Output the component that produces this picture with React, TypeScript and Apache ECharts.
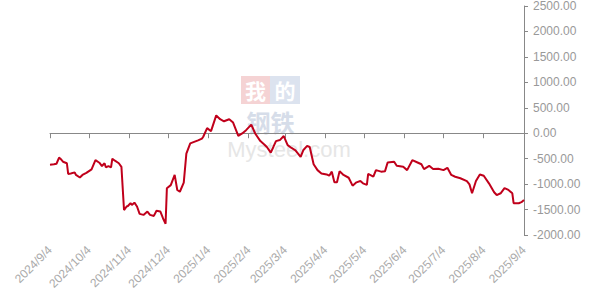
import React, { useEffect, useRef } from "react";
import * as echarts from "echarts";

// Axis range
const START_DATE = "2024-09-04";
const END_DATE = "2025-09-04";
const Y_MIN = -2000;
const Y_MAX = 2500;
const Y_STEP = 500;

// Series
const pointDates = [
  "2024/9/4", "2024/9/7", "2024/9/9", "2024/9/11", "2024/9/12", "2024/9/14", "2024/9/17", "2024/9/18",
  "2024/9/20", "2024/9/23", "2024/9/24", "2024/9/27", "2024/9/29", "2024/10/2", "2024/10/6", "2024/10/9",
  "2024/10/12", "2024/10/14", "2024/10/16", "2024/10/17", "2024/10/19", "2024/10/21", "2024/10/22", "2024/10/24",
  "2024/10/27", "2024/10/29", "2024/10/31", "2024/11/2", "2024/11/3", "2024/11/5", "2024/11/6", "2024/11/8",
  "2024/11/10", "2024/11/12", "2024/11/15", "2024/11/18", "2024/11/20", "2024/11/23", "2024/11/25", "2024/11/28",
  "2024/11/30", "2024/12/2", "2024/12/3", "2024/12/6", "2024/12/9", "2024/12/11", "2024/12/13", "2024/12/16",
  "2024/12/18", "2024/12/21", "2024/12/24", "2024/12/27", "2024/12/30", "2024/12/31", "2025/1/3", "2025/1/6",
  "2025/1/10", "2025/1/13", "2025/1/16", "2025/1/20", "2025/1/23", "2025/1/27", "2025/1/30", "2025/2/2",
  "2025/2/6", "2025/2/9", "2025/2/13", "2025/2/16", "2025/2/18", "2025/2/21", "2025/2/23", "2025/2/25",
  "2025/2/28", "2025/3/3", "2025/3/6", "2025/3/9", "2025/3/12", "2025/3/16", "2025/3/18", "2025/3/21",
  "2025/3/23", "2025/3/26", "2025/3/29", "2025/4/1", "2025/4/5", "2025/4/7", "2025/4/9", "2025/4/11",
  "2025/4/13", "2025/4/15", "2025/4/18", "2025/4/22", "2025/4/25", "2025/4/28", "2025/5/1", "2025/5/3",
  "2025/5/6", "2025/5/7", "2025/5/11", "2025/5/13", "2025/5/17", "2025/5/20", "2025/5/22", "2025/5/27",
  "2025/5/29", "2025/6/3", "2025/6/6", "2025/6/10", "2025/6/14", "2025/6/17", "2025/6/19", "2025/6/23",
  "2025/6/26", "2025/6/30", "2025/7/4", "2025/7/7", "2025/7/10", "2025/7/13", "2025/7/17", "2025/7/22",
  "2025/7/24", "2025/7/26", "2025/7/29", "2025/8/1", "2025/8/4", "2025/8/8", "2025/8/12", "2025/8/14",
  "2025/8/17", "2025/8/20", "2025/8/23", "2025/8/26", "2025/8/27", "2025/8/31", "2025/9/2", "2025/9/4",
];
const pointValues = [
  -620, -610, -600, -480, -500, -560, -590, -800,
  -790, -770, -820, -870, -820, -780, -710, -530,
  -580, -645, -590, -670, -645, -670, -500, -540,
  -590, -660, -1510, -1440, -1430, -1375, -1410, -1365,
  -1440, -1585, -1605, -1540, -1605, -1625, -1525, -1540,
  -1670, -1780, -1080, -1020, -820, -1115, -1150, -970,
  -400, -200, -170, -140, -105, -70, 100, 40,
  350, 275, 235, 275, 210, -50, -5, 60,
  170, -5, -155, -220, -270, -380, -270, -155,
  -135, -55, -235, -290, -335, -465, -335, -250,
  -270, -610, -725, -790, -810, -835, -755, -965,
  -965, -745, -820, -875, -1030, -965, -940, -985,
  -1015, -800, -855, -725, -755, -745, -575, -560,
  -640, -660, -725, -530, -575, -610, -705, -640,
  -705, -700, -725, -680, -820, -855, -885, -940,
  -1005, -1180, -940, -810, -835, -985, -1160, -1215,
  -1180, -1080, -1115, -1180, -1375, -1375, -1355, -1310,
];

function buildDays(start: string, end: string): string[] {
  const out: string[] = [];
  const s = new Date(start + "T00:00:00Z");
  const e = new Date(end + "T00:00:00Z");
  for (let d = new Date(s); d <= e; d.setUTCDate(d.getUTCDate() + 1)) {
    out.push(`${d.getUTCFullYear()}/${d.getUTCMonth() + 1}/${d.getUTCDate()}`);
  }
  return out;
}

const categories = buildDays(START_DATE, END_DATE);
const isMonthTick = (_i: number, v: string) => v.endsWith("/4");

export default function App() {
  const ref = useRef<HTMLDivElement>(null);
  useEffect(() => {
    document.body.style.margin = "0";
    if (!ref.current) return;
    const chart = echarts.init(ref.current, undefined, { renderer: "svg" });
    const data = pointDates.map((d, i) => [categories.indexOf(d), pointValues[i]]);
    chart.setOption({
      animation: false,
      backgroundColor: "#ffffff",
      grid: { left: 50, right: 72, top: 5, bottom: 67, containLabel: false },
      graphic: [
        { type: "rect", z: 0, shape: { x: 241, y: 76, width: 29, height: 28 }, style: { fill: "#f5d3d4" } },
        { type: "rect", z: 0, shape: { x: 270, y: 76, width: 30, height: 28 }, style: { fill: "#dce3ef" } },
        { type: "text", z: 0, x: 255.5, y: 90, style: { text: "我", fill: "#ffffff", font: "bold 21px 'Noto Sans CJK SC'", align: "center", verticalAlign: "middle" } },
        { type: "text", z: 0, x: 285, y: 90, style: { text: "的", fill: "#ffffff", font: "bold 21px 'Noto Sans CJK SC'", align: "center", verticalAlign: "middle" } },
        { type: "text", z: 0, x: 270.5, y: 121, style: { text: "钢铁", fill: "#d6dde9", font: "bold 24px 'Noto Sans CJK SC'", align: "center", verticalAlign: "middle" } },
        { type: "text", z: 0, x: 289, y: 149, style: { text: "Mysteel.com", fill: "#e6e6e6", font: "22px 'Liberation Sans'", align: "center", verticalAlign: "middle" } },
      ],
      xAxis: [
        {
          type: "category",
          data: categories,
          boundaryGap: false,
          position: "bottom",
          axisLine: { show: false, onZero: false },
          axisTick: { show: false },
          axisLabel: {
            interval: isMonthTick,
            rotate: 45,
            margin: 13,
            color: "#aaaaaa",
            fontSize: 12,
            fontFamily: "'Liberation Sans', Arial",
          },
          splitLine: { show: false },
        },
        {
          type: "category",
          data: categories,
          boundaryGap: false,
          position: "bottom",
          axisLine: { show: true, onZero: true, lineStyle: { color: "#888888", width: 1 } },
          axisTick: { show: true, interval: isMonthTick, length: 5, lineStyle: { color: "#888888" } },
          axisLabel: { show: false },
          splitLine: { show: false },
        },
      ],
      yAxis: {
        type: "value",
        position: "right",
        min: Y_MIN,
        max: Y_MAX,
        interval: Y_STEP,
        axisLine: { show: true, onZero: false, lineStyle: { color: "#888888" } },
        axisTick: { show: true, length: 4, lineStyle: { color: "#888888" } },
        axisLabel: {
          margin: 9,
          color: "#999999",
          fontSize: 12,
          fontFamily: "'Liberation Sans', Arial",
          formatter: (v: number) => v.toFixed(2),
        },
        splitLine: { show: false },
      },
      series: [
        {
          type: "line",
          xAxisIndex: 0,
          data,
          showSymbol: false,
          symbol: "none",
          z: 5,
          lineStyle: { color: "#c0001b", width: 2 },
        },
      ],
    });
    return () => chart.dispose();
  }, []);
  return <div ref={ref} style={{ width: 596, height: 302 }} />;
}
